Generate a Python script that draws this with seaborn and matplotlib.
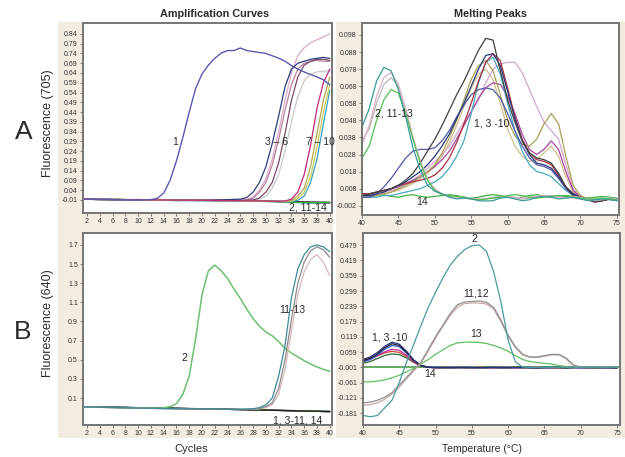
import matplotlib
matplotlib.use("Agg")
import matplotlib.pyplot as plt
import seaborn as sns
from matplotlib.patches import Rectangle

sns.set_style("white")
plt.rcParams['font.family'] = ['Liberation Sans', 'DejaVu Sans']
plt.rcParams['lines.solid_joinstyle'] = 'round'

# ---------------- DATA ----------------
cycles = list(range(1, 41))
base_x = [1, 4, 7, 10, 13, 16, 19, 22, 25, 28, 31, 34, 37, 40]
temps = list(range(40, 76))

# Panel A, amplification (705)
amp705_s1 = [-0.004, -0.006, -0.007, -0.008, -0.008, -0.009, -0.010, -0.010, -0.011, -0.011,
             -0.010, -0.008, -0.002, 0.025, 0.09, 0.19, 0.31, 0.44, 0.56, 0.635,
             0.68, 0.715, 0.742, 0.755, 0.755, 0.768, 0.755, 0.75, 0.745, 0.74,
             0.728, 0.716, 0.70, 0.678, 0.66, 0.645, 0.632, 0.62, 0.605, 0.58]
amp705_mid_x = [1, 6, 11, 16, 21, 26, 27, 28, 29, 30, 31, 32, 33, 34, 35, 36, 37, 38, 39, 40]
amp705_s3 = [-0.005, -0.008, -0.010, -0.011, -0.012, -0.006, 0.002, 0.03, 0.08, 0.16, 0.28, 0.42, 0.57, 0.66, 0.69, 0.70, 0.71, 0.715, 0.72, 0.715]
amp705_s4 = [-0.005, -0.008, -0.010, -0.011, -0.012, -0.012, -0.008, 0.005, 0.04, 0.10, 0.20, 0.34, 0.50, 0.64, 0.73, 0.77, 0.795, 0.81, 0.825, 0.84]
amp705_s5 = [-0.005, -0.008, -0.010, -0.011, -0.012, -0.012, -0.010, 0.0, 0.03, 0.08, 0.17, 0.30, 0.45, 0.58, 0.66, 0.69, 0.70, 0.705, 0.70, 0.70]
amp705_s6 = [-0.005, -0.008, -0.010, -0.011, -0.012, -0.013, -0.012, -0.010, 0.0, 0.03, 0.08, 0.18, 0.33, 0.50, 0.62, 0.68, 0.70, 0.71, 0.71, 0.705]
amp705_s6g = [-0.005, -0.008, -0.010, -0.011, -0.012, -0.013, -0.012, -0.011, -0.006, 0.01, 0.05, 0.12, 0.24, 0.39, 0.52, 0.60, 0.635, 0.645, 0.65, 0.65]
amp705_late_x = [1, 6, 11, 16, 21, 26, 31, 32, 33, 34, 35, 36, 37, 38, 39, 40]
amp705_s7 = [-0.005, -0.008, -0.010, -0.011, -0.012, -0.014, -0.016, -0.017, -0.015, -0.006, 0.03, 0.12, 0.27, 0.46, 0.59, 0.66]
amp705_s8 = [-0.006, -0.009, -0.010, -0.012, -0.013, -0.015, -0.017, -0.018, -0.018, -0.012, 0.01, 0.05, 0.16, 0.33, 0.50, 0.62]
amp705_s9 = [-0.005, -0.008, -0.011, -0.012, -0.013, -0.015, -0.017, -0.018, -0.019, -0.016, -0.003, 0.03, 0.11, 0.26, 0.44, 0.58]
amp705_s10 = [-0.006, -0.009, -0.011, -0.012, -0.014, -0.016, -0.018, -0.019, -0.020, -0.019, -0.012, 0.01, 0.08, 0.20, 0.38, 0.55]
amp705_base_green = [-0.004, -0.008, -0.006, -0.010, -0.009, -0.012, -0.010, -0.013, -0.012, -0.015, -0.017, -0.022, -0.024, -0.023]
amp705_base_black = [-0.006, -0.007, -0.009, -0.008, -0.011, -0.010, -0.013, -0.012, -0.014, -0.013, -0.016, -0.019, -0.021, -0.022]
amp705_base_red = [-0.005, -0.009, -0.008, -0.011, -0.010, -0.013, -0.011, -0.014, -0.013, -0.016, -0.018, -0.020, -0.023, -0.025]
amp705_base_blue = [-0.003, -0.006, -0.008, -0.009, -0.012, -0.011, -0.012, -0.011, -0.015, -0.014, -0.017, -0.021, -0.022, -0.024]
amp705_base_teal = [-0.007, -0.008, -0.010, -0.012, -0.011, -0.014, -0.013, -0.015, -0.014, -0.017, -0.019, -0.023, -0.026, -0.027]

# Panel B, amplification (640)
amp640_s2 = [0.008, 0.007, 0.006, 0.004, 0.003, 0.002, 0.001, 0.0, -0.001, -0.002,
             -0.003, -0.004, -0.004, -0.002, 0.01, 0.04, 0.14, 0.33, 0.72, 1.18,
             1.43, 1.49, 1.43, 1.35, 1.24, 1.14, 1.03, 0.93, 0.85, 0.79,
             0.75, 0.69, 0.62, 0.57, 0.53, 0.49, 0.455, 0.425, 0.40, 0.38]
amp640_mid_x = [1, 6, 11, 16, 21, 26, 28, 29, 30, 31, 32, 33, 34, 35, 36, 37, 38, 39, 40]
amp640_s11 = [0.008, 0.0, -0.006, -0.012, -0.016, -0.018, -0.012, 0.0, 0.03, 0.10, 0.33, 0.65, 1.15, 1.45, 1.60, 1.68, 1.70, 1.68, 1.63]
amp640_s12 = [0.007, 0.0, -0.007, -0.013, -0.017, -0.019, -0.016, -0.010, 0.01, 0.05, 0.20, 0.50, 0.92, 1.30, 1.52, 1.64, 1.68, 1.65, 1.57]
amp640_s13 = [0.006, -0.001, -0.008, -0.014, -0.018, -0.020, -0.018, -0.014, 0.0, 0.03, 0.14, 0.40, 0.80, 1.18, 1.42, 1.55, 1.60, 1.52, 1.38]
amp640_base_black = [0.009, 0.006, 0.003, 0.0, -0.004, -0.008, -0.012, -0.016, -0.019, -0.024, -0.028, -0.033, -0.037, -0.041]
amp640_base_red = [0.006, 0.008, 0.002, -0.002, -0.003, -0.009, -0.010, -0.015, -0.020, -0.022, -0.029, -0.031, -0.039, -0.040]
amp640_base_blue = [0.010, 0.005, 0.004, -0.001, -0.005, -0.006, -0.013, -0.014, -0.021, -0.023, -0.026, -0.034, -0.036, -0.043]
amp640_base_teal = [0.007, 0.007, 0.001, -0.003, -0.002, -0.010, -0.011, -0.017, -0.018, -0.025, -0.027, -0.032, -0.038, -0.042]
amp640_base_green = [0.012, 0.004, 0.002, -0.001, -0.006, -0.007, -0.011, -0.013, -0.020, -0.021, -0.030, -0.030, -0.035, -0.039]
amp640_base_magenta = [0.005, 0.006, 0.003, -0.002, -0.004, -0.009, -0.012, -0.015, -0.019, -0.023, -0.027, -0.033, -0.037, -0.044]

# Panel A, melting peaks (705)
mp705_s2 = [0.044, 0.055, 0.071, 0.079, 0.077, 0.066, 0.050, 0.032, 0.019, 0.010,
            0.0065, 0.005, 0.003, 0.002, 0.0025, 0.002, 0.001, 0.0008, 0.001, 0.0025,
            0.003, 0.002, 0.001, 0.0015, 0.003, 0.0035, 0.003, 0.002, 0.0025, 0.003,
            0.002, 0.001, 0.0015, 0.002, 0.0015, 0.001]
mp705_s11 = [0.034, 0.045, 0.062, 0.073, 0.076, 0.069, 0.055, 0.038, 0.024, 0.013,
             0.008, 0.005, 0.004, 0.003, 0.003, 0.0025, 0.002, 0.002, 0.0025, 0.003,
             0.0035, 0.003, 0.0025, 0.003, 0.0035, 0.004, 0.0035, 0.003, 0.003, 0.0035,
             0.003, 0.002, 0.0015, 0.002, 0.0025, 0.002]
mp705_s12 = [0.036, 0.043, 0.058, 0.069, 0.073, 0.068, 0.054, 0.038, 0.024, 0.013,
             0.007, 0.0045, 0.0035, 0.003, 0.0025, 0.002, 0.0015, 0.002, 0.003, 0.0035,
             0.003, 0.0025, 0.002, 0.0025, 0.003, 0.0035, 0.004, 0.0035, 0.003, 0.0025,
             0.002, 0.0015, 0.001, 0.0015, 0.002, 0.0015]
mp705_s13 = [0.026, 0.033, 0.048, 0.060, 0.066, 0.064, 0.052, 0.037, 0.023, 0.013,
             0.007, 0.0045, 0.004, 0.0035, 0.003, 0.002, 0.0015, 0.002, 0.0025, 0.003,
             0.004, 0.0045, 0.004, 0.003, 0.0025, 0.003, 0.0035, 0.004, 0.0035, 0.003,
             0.0025, 0.002, 0.002, 0.0025, 0.002, 0.0015]
mp705_s14 = [0.005, 0.0045, 0.004, 0.0045, 0.0035, 0.003, 0.004, 0.0045, 0.0035, 0.003,
             0.0035, 0.004, 0.0045, 0.004, 0.003, 0.0025, 0.003, 0.004, 0.0045, 0.004,
             0.003, 0.0025, 0.003, 0.004, 0.0045, 0.0035, 0.003, 0.0035, 0.004, 0.0035,
             0.003, 0.0025, 0.003, 0.0035, 0.003, 0.0025]
mp705_black = [0.004, 0.005, 0.006, 0.007, 0.008, 0.010, 0.013, 0.017, 0.023, 0.030,
               0.037, 0.045, 0.054, 0.063, 0.071, 0.080, 0.089, 0.096, 0.095, 0.077,
               0.060, 0.047, 0.036, 0.029, 0.026, 0.025, 0.023, 0.017, 0.009, 0.004,
               0.0025, 0.002, 0.001, 0.001, 0.002, 0.001]
mp705_navy = [0.004, 0.004, 0.005, 0.006, 0.008, 0.010, 0.012, 0.015, 0.018, 0.022,
              0.027, 0.033, 0.040, 0.049, 0.058, 0.068, 0.078, 0.086, 0.087, 0.080,
              0.065, 0.049, 0.036, 0.028, 0.023, 0.022, 0.020, 0.015, 0.009, 0.005,
              0.003, 0.0015, 0.0005, 0.001, 0.002, 0.002]
mp705_blue = [0.003, 0.003, 0.005, 0.009, 0.014, 0.020, 0.026, 0.030, 0.031, 0.031,
              0.032, 0.036, 0.042, 0.050, 0.057, 0.063, 0.066, 0.067, 0.066, 0.061,
              0.052, 0.042, 0.033, 0.026, 0.022, 0.021, 0.019, 0.014, 0.008, 0.004,
              0.003, 0.002, 0.001, 0.001, 0.002, 0.002]
mp705_cyan = [0.003, 0.003, 0.003, 0.004, 0.004, 0.005, 0.006, 0.007, 0.008, 0.010,
              0.012, 0.015, 0.020, 0.027, 0.036, 0.052, 0.070, 0.082, 0.085, 0.075,
              0.058, 0.042, 0.030, 0.022, 0.018, 0.017, 0.015, 0.011, 0.007, 0.004,
              0.003, 0.002, 0.001, 0.002, 0.002, 0.001]
mp705_olive = [0.003, 0.003, 0.004, 0.005, 0.006, 0.008, 0.010, 0.012, 0.015, 0.018,
               0.022, 0.029, 0.038, 0.048, 0.060, 0.072, 0.080, 0.083, 0.077, 0.063,
               0.048, 0.039, 0.034, 0.033, 0.037, 0.046, 0.052, 0.046, 0.027, 0.010,
               0.004, 0.002, 0.001, 0.001, 0.002, 0.002]
mp705_pink = [0.004, 0.004, 0.005, 0.006, 0.007, 0.008, 0.010, 0.013, 0.016, 0.020,
              0.024, 0.028, 0.033, 0.040, 0.047, 0.053, 0.060, 0.070, 0.078, 0.081,
              0.082, 0.082, 0.076, 0.066, 0.056, 0.047, 0.042, 0.037, 0.022, 0.008,
              0.003, 0.002, 0.001, 0.001, 0.002, 0.002]
mp705_magenta = [0.005, 0.005, 0.006, 0.007, 0.008, 0.009, 0.011, 0.013, 0.015, 0.018,
                 0.021, 0.025, 0.030, 0.037, 0.045, 0.053, 0.061, 0.067, 0.070, 0.069,
                 0.062, 0.052, 0.040, 0.031, 0.028, 0.031, 0.036, 0.031, 0.018, 0.007,
                 0.003, 0.002, 0.001, 0.001, 0.002, 0.002]
mp705_tan = [0.003, 0.004, 0.004, 0.005, 0.006, 0.007, 0.009, 0.011, 0.014, 0.017,
             0.021, 0.027, 0.035, 0.045, 0.056, 0.067, 0.075, 0.078, 0.072, 0.058,
             0.043, 0.033, 0.027, 0.024, 0.025, 0.029, 0.033, 0.027, 0.015, 0.006,
             0.003, 0.002, 0.001, 0.001, 0.002, 0.002]
mp705_red = [0.005, 0.005, 0.006, 0.007, 0.008, 0.010, 0.011, 0.012, 0.013, 0.014,
             0.016, 0.020, 0.026, 0.035, 0.046, 0.058, 0.071, 0.082, 0.087, 0.083,
             0.067, 0.050, 0.037, 0.029, 0.025, 0.024, 0.022, 0.016, 0.009, 0.005,
             0.003, 0.0015, 0.0, 0.001, 0.002, 0.002]

# Panel B, melting peaks (640)
mp640_s2 = [-0.190, -0.195, -0.190, -0.160, -0.130, -0.060, 0.020, 0.090, 0.165, 0.235,
            0.295, 0.350, 0.400, 0.435, 0.462, 0.477, 0.480, 0.455, 0.375, 0.255,
            0.105, 0.020, 0.000, -0.001, -0.001, -0.001, -0.001, -0.001, -0.001, -0.001,
            -0.001, -0.001, -0.001, -0.001, -0.001, -0.001]
mp640_s11 = [-0.140, -0.138, -0.130, -0.118, -0.100, -0.070, -0.040, -0.010, 0.020, 0.070,
             0.120, 0.165, 0.210, 0.245, 0.256, 0.258, 0.260, 0.255, 0.235, 0.185,
             0.125, 0.080, 0.050, 0.040, 0.040, 0.045, 0.050, 0.050, 0.035, 0.008,
             0.000, -0.001, -0.001, -0.001, -0.001, -0.001]
mp640_s12 = [-0.150, -0.148, -0.140, -0.126, -0.106, -0.078, -0.046, -0.014, 0.016, 0.064,
             0.114, 0.160, 0.202, 0.236, 0.250, 0.252, 0.252, 0.248, 0.228, 0.178,
             0.120, 0.076, 0.048, 0.038, 0.038, 0.043, 0.048, 0.048, 0.032, 0.006,
             0.000, -0.001, -0.001, -0.001, -0.001, -0.001]
mp640_s13 = [-0.058, -0.058, -0.055, -0.050, -0.042, -0.032, -0.018, -0.005, 0.012, 0.030,
             0.050, 0.068, 0.085, 0.095, 0.098, 0.098, 0.097, 0.093, 0.085, 0.075,
             0.062, 0.045, 0.030, 0.022, 0.018, 0.015, 0.012, 0.006, 0.002, 0.000,
             -0.001, -0.001, -0.001, -0.001, -0.001, -0.001]
mp640_s14_x = [40, 75.4]
mp640_s14 = [-0.001, -0.001]
mp640_navy = [0.030, 0.040, 0.058, 0.082, 0.098, 0.090, 0.062, 0.028, 0.007, -0.001,
              -0.002, -0.001, -0.003, -0.002, -0.001, -0.002, -0.003, -0.001, -0.002, -0.001,
              -0.002, -0.002, -0.001, -0.003, -0.002, -0.001, -0.002, -0.001, -0.002, -0.001,
              -0.002, -0.001, -0.002, -0.003, -0.001, -0.002]
mp640_black = [0.025, 0.035, 0.052, 0.076, 0.092, 0.085, 0.058, 0.026, 0.006, -0.001,
               -0.003, -0.002, -0.002, -0.001, -0.003, -0.002, -0.002, -0.003, -0.001, -0.002,
               -0.003, -0.001, -0.002, -0.002, -0.003, -0.002, -0.001, -0.002, -0.003, -0.002,
               -0.001, -0.002, -0.003, -0.002, -0.002, -0.003]
mp640_blue = [0.020, 0.030, 0.048, 0.070, 0.085, 0.080, 0.055, 0.025, 0.006, 0.000,
              -0.001, -0.002, -0.001, -0.002, -0.002, -0.001, -0.002, -0.002, -0.001, -0.003,
              -0.001, -0.002, -0.002, -0.001, -0.002, -0.003, -0.002, -0.001, -0.002, -0.002,
              -0.003, -0.002, -0.001, -0.002, -0.003, -0.002]
mp640_magenta = [0.022, 0.030, 0.045, 0.060, 0.070, 0.066, 0.047, 0.022, 0.005, -0.001,
                 -0.002, -0.002, -0.001, -0.001, -0.002, -0.003, -0.001, -0.002, -0.002, -0.001,
                 -0.002, -0.003, -0.002, -0.001, -0.001, -0.002, -0.003, -0.002, -0.001, -0.002,
                 -0.002, -0.003, -0.001, -0.001, -0.002, -0.001]
mp640_red = [0.028, 0.034, 0.045, 0.056, 0.062, 0.058, 0.042, 0.020, 0.005, 0.000,
             -0.002, -0.001, -0.002, -0.003, -0.001, -0.002, -0.001, -0.002, -0.003, -0.002,
             -0.001, -0.002, -0.003, -0.002, -0.001, -0.002, -0.002, -0.003, -0.001, -0.002,
             -0.001, -0.002, -0.002, -0.001, -0.003, -0.002]
mp640_dkgreen = [0.015, 0.022, 0.034, 0.046, 0.052, 0.049, 0.036, 0.018, 0.004, -0.001,
                 -0.001, -0.003, -0.002, -0.002, -0.001, -0.002, -0.002, -0.001, -0.002, -0.003,
                 -0.002, -0.001, -0.001, -0.002, -0.003, -0.001, -0.002, -0.002, -0.003, -0.001,
                 -0.002, -0.002, -0.001, -0.002, -0.001, -0.003]

# Tick labels
amp_xticks = [2, 4, 6, 8, 10, 12, 14, 16, 18, 20, 22, 24, 26, 28, 30, 32, 34, 36, 38, 40]
amp705_yticks = [-0.01, 0.04, 0.09, 0.14, 0.19, 0.24, 0.29, 0.34, 0.39, 0.44, 0.49, 0.54, 0.59, 0.64, 0.69, 0.74, 0.79, 0.84]
amp640_yticks = [0.1, 0.3, 0.5, 0.7, 0.9, 1.1, 1.3, 1.5, 1.7]
melt_xticks = [40, 45, 50, 55, 60, 65, 70, 75]
mp705_yticks = [-0.002, 0.008, 0.018, 0.028, 0.038, 0.048, 0.058, 0.068, 0.078, 0.088, 0.098]
mp640_yticks = [-0.181, -0.121, -0.061, -0.001, 0.059, 0.119, 0.179, 0.239, 0.299, 0.359, 0.419, 0.479]

# ---------------- FIGURE ----------------
W, H = 625, 457
fig = plt.figure(figsize=(W / 100, H / 100), dpi=100)
fig.patch.set_facecolor('white')
BEIGE = '#f3ece0'
TXT = '#2a2a2a'


def box(x0, y0, x1, y1):
    return [x0 / W, 1 - y1 / H, (x1 - x0) / W, (y1 - y0) / H]


for (x0, y0, x1, y1) in [(58, 22, 333, 438), (336, 22, 625, 438)]:
    fig.patches.append(Rectangle((x0 / W, 1 - y1 / H), (x1 - x0) / W, (y1 - y0) / H,
                                 transform=fig.transFigure, facecolor=BEIGE,
                                 edgecolor='none', zorder=-10))

ax_tl = fig.add_axes(box(83, 23, 332, 213))
ax_tr = fig.add_axes(box(362, 23, 619, 215))
ax_bl = fig.add_axes(box(83, 233, 332, 425))
ax_br = fig.add_axes(box(363, 233, 620, 425))
for a in (ax_tl, ax_tr, ax_bl, ax_br):
    a.set_zorder(5)


def draw(ax, x, y, color, lw=0.9):
    sns.lineplot(x=x, y=y, ax=ax, color=color, linewidth=lw, estimator=None,
                 sort=False, legend=False)


def style(ax, xlim, ylim, xticks, yticks, yfmt):
    ax.set_facecolor('white')
    ax.set_xlim(*xlim)
    ax.set_ylim(*ylim)
    ax.set_xticks(xticks)
    ax.set_xticklabels([str(t) for t in xticks])
    ax.set_yticks(yticks)
    ax.set_yticklabels([yfmt.format(t) for t in yticks])
    ax.set_xlabel('')
    ax.set_ylabel('')
    ax.tick_params(axis='both', which='both', labelsize=5, length=2.5, width=0.6,
                   color='#666666', labelcolor='#333333', pad=1.2, direction='out',
                   left=True, bottom=True, top=False, right=False)
    for s in ax.spines.values():
        s.set_color('#757575')
        s.set_linewidth(1.4)


# --- top-left: amplification 705 ---
for yv, c in [(amp705_base_teal, '#2aa0a0'), (amp705_base_blue, '#3050c0'),
              (amp705_base_red, '#d03030'), (amp705_base_black, '#202020'),
              (amp705_base_green, '#3cb040')]:
    draw(ax_tl, base_x, yv, c)
for yv, c in [(amp705_s6g, '#c8c8c8'), (amp705_s4, '#dcaacb'), (amp705_s5, '#b48098'),
              (amp705_s6, '#7a4868'), (amp705_s3, '#2c3c78')]:
    draw(ax_tl, amp705_mid_x, yv, c)
for yv, c in [(amp705_s10, '#38a0c0'), (amp705_s9, '#c8cc60'), (amp705_s8, '#b0a850'),
              (amp705_s7, '#c0287a')]:
    draw(ax_tl, amp705_late_x, yv, c)
draw(ax_tl, cycles, amp705_s1, '#5a5ab0', 1.0)
style(ax_tl, (1.37, 40.35), (-0.077, 0.896), amp_xticks, amp705_yticks, '{:.2f}')

ax_tl.text(15.8, 0.287, '1', fontsize=7.5, color=TXT, ha='center', va='center')
ax_tl.text(31.7, 0.287, '3 \u2013 6', fontsize=7.5, color=TXT, ha='center', va='center')
ax_tl.text(38.6, 0.287, '7 \u2013 10', fontsize=7.5, color=TXT, ha='center', va='center', clip_on=False)
ax_tl.text(36.6, -0.05, '2, 11-14', fontsize=7.5, color=TXT, ha='center', va='center')

# --- bottom-left: amplification 640 ---
for yv, c in [(amp640_base_teal, '#2aa0a0'), (amp640_base_magenta, '#b03090'),
              (amp640_base_blue, '#3050c0'), (amp640_base_red, '#d03030'),
              (amp640_base_green, '#3cb040'), (amp640_base_black, '#202020')]:
    draw(ax_bl, base_x, yv, c)
draw(ax_bl, cycles, amp640_s2, '#6cc070', 1.1)
for yv, c in [(amp640_s13, '#d8b8b8'), (amp640_s12, '#8a8a8a'), (amp640_s11, '#3f8a98')]:
    draw(ax_bl, amp640_mid_x, yv, c)
style(ax_bl, (1.37, 40.35), (-0.182, 1.825), amp_xticks, amp640_yticks, '{:.1f}')

ax_bl.text(17.3, 0.52, '2', fontsize=7.5, color=TXT, ha='center', va='center')
ax_bl.text(34.2, 1.02, '11-13', fontsize=7.5, color=TXT, ha='center', va='center')
ax_bl.text(35.0, -0.13, '1, 3-11, 14', fontsize=7.5, color=TXT, ha='center', va='center')

# --- top-right: melting peaks 705 ---
for yv, c in [(mp705_s14, '#40b040'), (mp705_tan, '#d0c090'), (mp705_pink, '#d4a4cc'),
              (mp705_magenta, '#a848a0'), (mp705_olive, '#a8a058'), (mp705_cyan, '#48a8c0'),
              (mp705_blue, '#5058a8'), (mp705_red, '#a83040'), (mp705_navy, '#283878'),
              (mp705_black, '#404040')]:
    draw(ax_tr, temps, yv, c)
for yv, c in [(mp705_s12, '#b8b8b8'), (mp705_s11, '#dcb0c4'), (mp705_s13, '#50c050'),
              (mp705_s2, '#3a9a9a')]:
    draw(ax_tr, temps, yv, c)
style(ax_tr, (40, 75.3), (-0.0074, 0.105), melt_xticks, mp705_yticks, '{:.3f}')

ax_tr.text(44.4, 0.0523, '2, 11-13', fontsize=7.5, color=TXT, ha='center', va='center')
ax_tr.text(57.8, 0.0464, '1, 3 -10', fontsize=7.5, color=TXT, ha='center', va='center')
ax_tr.text(48.2, 0.0002, '14', fontsize=7.5, color=TXT, ha='center', va='center')

# --- bottom-right: melting peaks 640 ---
draw(ax_br, mp640_s14_x, mp640_s14, '#4a9a4a', 1.2)
for yv, c in [(mp640_dkgreen, '#306830'), (mp640_red, '#d04040'), (mp640_magenta, '#c03090'),
              (mp640_blue, '#3060d0'), (mp640_black, '#202020'), (mp640_navy, '#283080')]:
    draw(ax_br, temps, yv, c)
for yv, c in [(mp640_s13, '#60c060'), (mp640_s12, '#c8a8a8'), (mp640_s11, '#909090'),
              (mp640_s2, '#4a9aa0')]:
    draw(ax_br, temps, yv, c)
style(ax_br, (40, 75.4), (-0.2275, 0.527), melt_xticks, mp640_yticks, '{:.3f}')

ax_br.text(55.4, 0.503, '2', fontsize=7.5, color=TXT, ha='center', va='center')
ax_br.text(55.6, 0.290, '11,12', fontsize=7.5, color=TXT, ha='center', va='center')
ax_br.text(55.5, 0.129, '13', fontsize=7.5, color=TXT, ha='center', va='center')
ax_br.text(43.7, 0.117, '1, 3 -10', fontsize=7.5, color=TXT, ha='center', va='center')
ax_br.text(49.2, -0.028, '14', fontsize=7.5, color=TXT, ha='center', va='center')

# --- figure texts ---
def ftext(x, y, s, **kw):
    fig.text(x / W, 1 - y / H, s, ha='center', va='center', color=TXT, **kw)


ftext(215, 14, 'Amplification Curves', fontsize=7.8, fontweight='bold')
ftext(491, 14, 'Melting Peaks', fontsize=7.8, fontweight='bold')
ftext(24, 132, 'A', fontsize=19)
ftext(23, 332, 'B', fontsize=19)
ftext(48, 123, 'Fluorescence (705)', fontsize=9, rotation=90)
ftext(48, 323, 'Fluorescence (640)', fontsize=9, rotation=90)
ftext(191, 449, 'Cycles', fontsize=8)
ftext(482, 449, 'Temperature (\u00b0C)', fontsize=7.5)

fig.savefig('out.png', dpi=100, facecolor='white')
